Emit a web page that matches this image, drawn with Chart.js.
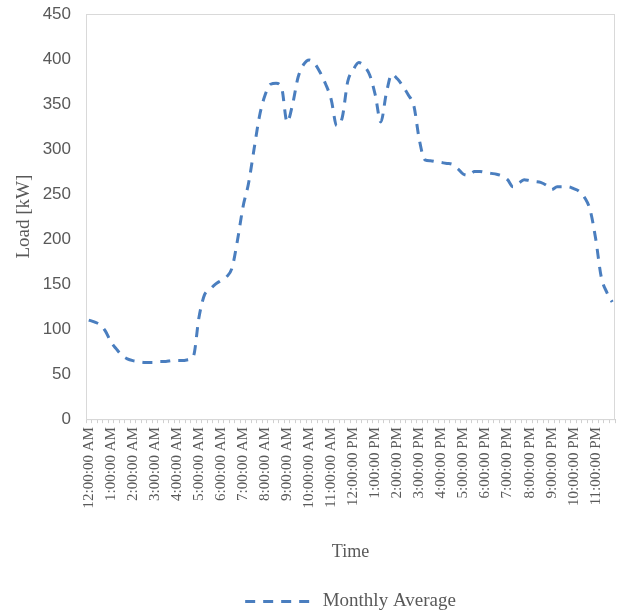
<!DOCTYPE html>
<html>
<head>
<meta charset="utf-8">
<script src="https://cdn.jsdelivr.net/npm/chart.js@4.4.0/dist/chart.umd.min.js"></script>
<style>
  html, body { margin: 0; padding: 0; background: #ffffff; }
  #wrap { width: 619px; height: 611px; position: relative; }
</style>
</head>
<body>
<div id="wrap"><canvas id="loadChart"></canvas></div>
<script>
// 15 minute steps over one day, labelled every hour
const hourLabels = ['12:00:00 AM', '1:00:00 AM', '2:00:00 AM', '3:00:00 AM', '4:00:00 AM', '5:00:00 AM',
  '6:00:00 AM', '7:00:00 AM', '8:00:00 AM', '9:00:00 AM', '10:00:00 AM', '11:00:00 AM',
  '12:00:00 PM', '1:00:00 PM', '2:00:00 PM', '3:00:00 PM', '4:00:00 PM', '5:00:00 PM',
  '6:00:00 PM', '7:00:00 PM', '8:00:00 PM', '9:00:00 PM', '10:00:00 PM', '11:00:00 PM'];

const monthlyAverage = [
  110, 108, 105, 98, 86, 78, 71, 67,
  65, 64, 63, 63, 63, 64, 64, 65,
  65, 65, 66, 70, 113, 138, 144, 150,
  154, 158, 168, 199, 236, 262, 300, 337,
  360, 372, 373, 368, 330, 350, 380, 394,
  399, 395, 385, 372, 355, 326, 335, 375,
  388, 396, 392, 382, 360, 330, 362, 383,
  378, 370, 360, 348, 310, 288, 287, 286,
  285, 284, 283, 278, 272, 271, 275, 275,
  274, 273, 272, 270, 266, 258, 262, 266,
  265, 264, 263, 260, 255, 258, 258, 258,
  256, 253, 246, 232, 200, 158, 141, 130
];

const yTicks = [0, 50, 100, 150, 200, 250, 300, 350, 400, 450];

// one slot per data point, hour name on every 4th slot
const slotLabels = monthlyAverage.map((v, i) => (i % 4 === 0 ? hourLabels[i / 4] : ''));

const serif = 'Liberation Serif, Times New Roman, serif';
const textGrey = '#595959';

// light frame round the plot area, like the spreadsheet chart
const frame = {
  id: 'frame',
  beforeDatasetsDraw(chart) {
    const a = chart.chartArea;
    const ctx = chart.ctx;
    ctx.save();
    ctx.strokeStyle = '#d9d9d9';
    ctx.lineWidth = 1;
    ctx.strokeRect(a.left + 0.5, a.top + 0.5, a.right - a.left - 1, a.bottom - a.top);
    ctx.restore();
  }
};

new Chart(document.getElementById('loadChart').getContext('2d'), {
  type: 'line',
  data: {
    labels: slotLabels,
    datasets: [{
      label: 'Monthly Average',
      data: monthlyAverage,
      borderColor: '#4a7ebf',
      backgroundColor: '#4a7ebf',
      borderWidth: 3,
      borderDash: [10, 8],
      borderCapStyle: 'butt',
      pointRadius: 0,
      tension: 0.4,
      cubicInterpolationMode: 'monotone',
      fill: false
    }]
  },
  options: {
    responsive: true,
    maintainAspectRatio: false,
    animation: false,
    layout: { padding: { left: 0, right: 4, top: 14, bottom: -10 } },
    plugins: {
      tooltip: { enabled: false },
      legend: {
        position: 'bottom',
        fullSize: false,
        labels: {
          // 68px keeps the dashes of the flat box on top of each other
          boxWidth: 68,
          boxHeight: 0,
          color: textGrey,
          font: { family: serif, size: 19 },
          padding: 1
        }
      }
    },
    scales: {
      x: {
        offset: true,
        afterFit: axis => { axis.paddingLeft = 0; axis.paddingRight = 0; },
        grid: {
          offset: true,
          drawOnChartArea: false,
          drawTicks: true,
          tickLength: 4,
          color: '#d0d0d0'
        },
        border: { color: '#d0d0d0', width: 1 },
        ticks: {
          autoSkip: false,
          maxRotation: 90,
          minRotation: 90,
          padding: 4,
          color: textGrey,
          font: { family: serif, size: 15 }
        },
        title: {
          display: true,
          text: 'Time',
          color: textGrey,
          font: { family: serif, size: 18 },
          padding: { top: 29, bottom: 28 }
        }
      },
      y: {
        min: 0,
        max: 450,
        afterBuildTicks: axis => { axis.ticks = yTicks.map(v => ({ value: v })); },
        afterFit: axis => { axis.width = 86; axis.paddingTop = 0; axis.paddingBottom = 0; },
        grid: { display: false, drawTicks: false },
        border: { color: '#d0d0d0', width: 1 },
        ticks: {
          padding: 15,
          color: textGrey,
          font: { family: 'Liberation Sans, Arial, sans-serif', size: 17 }
        },
        title: {
          display: true,
          text: 'Load [kW]',
          color: textGrey,
          font: { family: serif, size: 19 },
          padding: { top: 13, bottom: 0 }
        }
      }
    }
  },
  plugins: [frame]
});
</script>
</body>
</html>
